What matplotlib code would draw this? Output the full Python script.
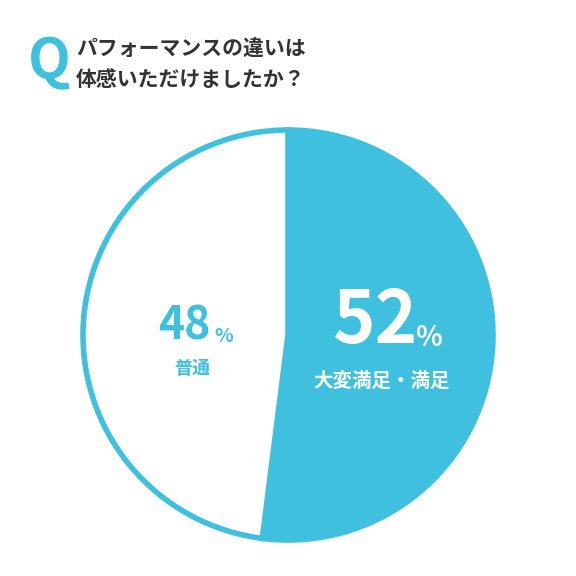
import matplotlib
matplotlib.use("Agg")
import matplotlib.pyplot as plt

plt.rcParams['font.family'] = ['Noto Sans CJK JP', 'DejaVu Sans']

labels = ["大変満足・満足", "普通"]
values = [52, 48]
title_lines = ["パフォーマンスの違いは", "体感いただけましたか？"]
blue = "#3EC0DE"

H = 576
def Y(y):
    return H - y

fig = plt.figure(figsize=(5.76, 5.76), dpi=100)
ax = fig.add_axes([0, 0, 1, 1])

ax.pie(values, colors=[blue, "white"], center=(288, Y(335)), radius=205,
       startangle=90, counterclock=False,
       wedgeprops=dict(edgecolor=blue, linewidth=4))
ax.set_xlim(0, 576); ax.set_ylim(0, 576); ax.set_aspect('equal'); ax.axis('off')

ax.text(28, Y(62), "Q", color=blue, fontsize=40, fontweight='bold', va='center', ha='left')
ax.text(76, Y(48), title_lines[0], fontsize=15, fontweight='bold', color="#333333", va='center')
ax.text(76, Y(79), title_lines[1], fontsize=15, fontweight='bold', color="#333333", va='center')

ax.text(375, Y(322), f"{values[0]}", color="white", fontsize=52, fontweight='bold', ha='center', va='center')
ax.text(428, Y(338), "%", color="white", fontsize=20, fontweight='bold', ha='center', va='center')
ax.text(382, Y(381), labels[0], color="white", fontsize=14, fontweight='bold', ha='center', va='center')

ax.text(184, Y(327), f"{values[1]}", color=blue, fontsize=32, fontweight='bold', ha='center', va='center')
ax.text(224, Y(336), "%", color=blue, fontsize=14, fontweight='bold', ha='center', va='center')
ax.text(192, Y(369), labels[1], color=blue, fontsize=13, fontweight='bold', ha='center', va='center')

fig.savefig("out.png", dpi=100)
